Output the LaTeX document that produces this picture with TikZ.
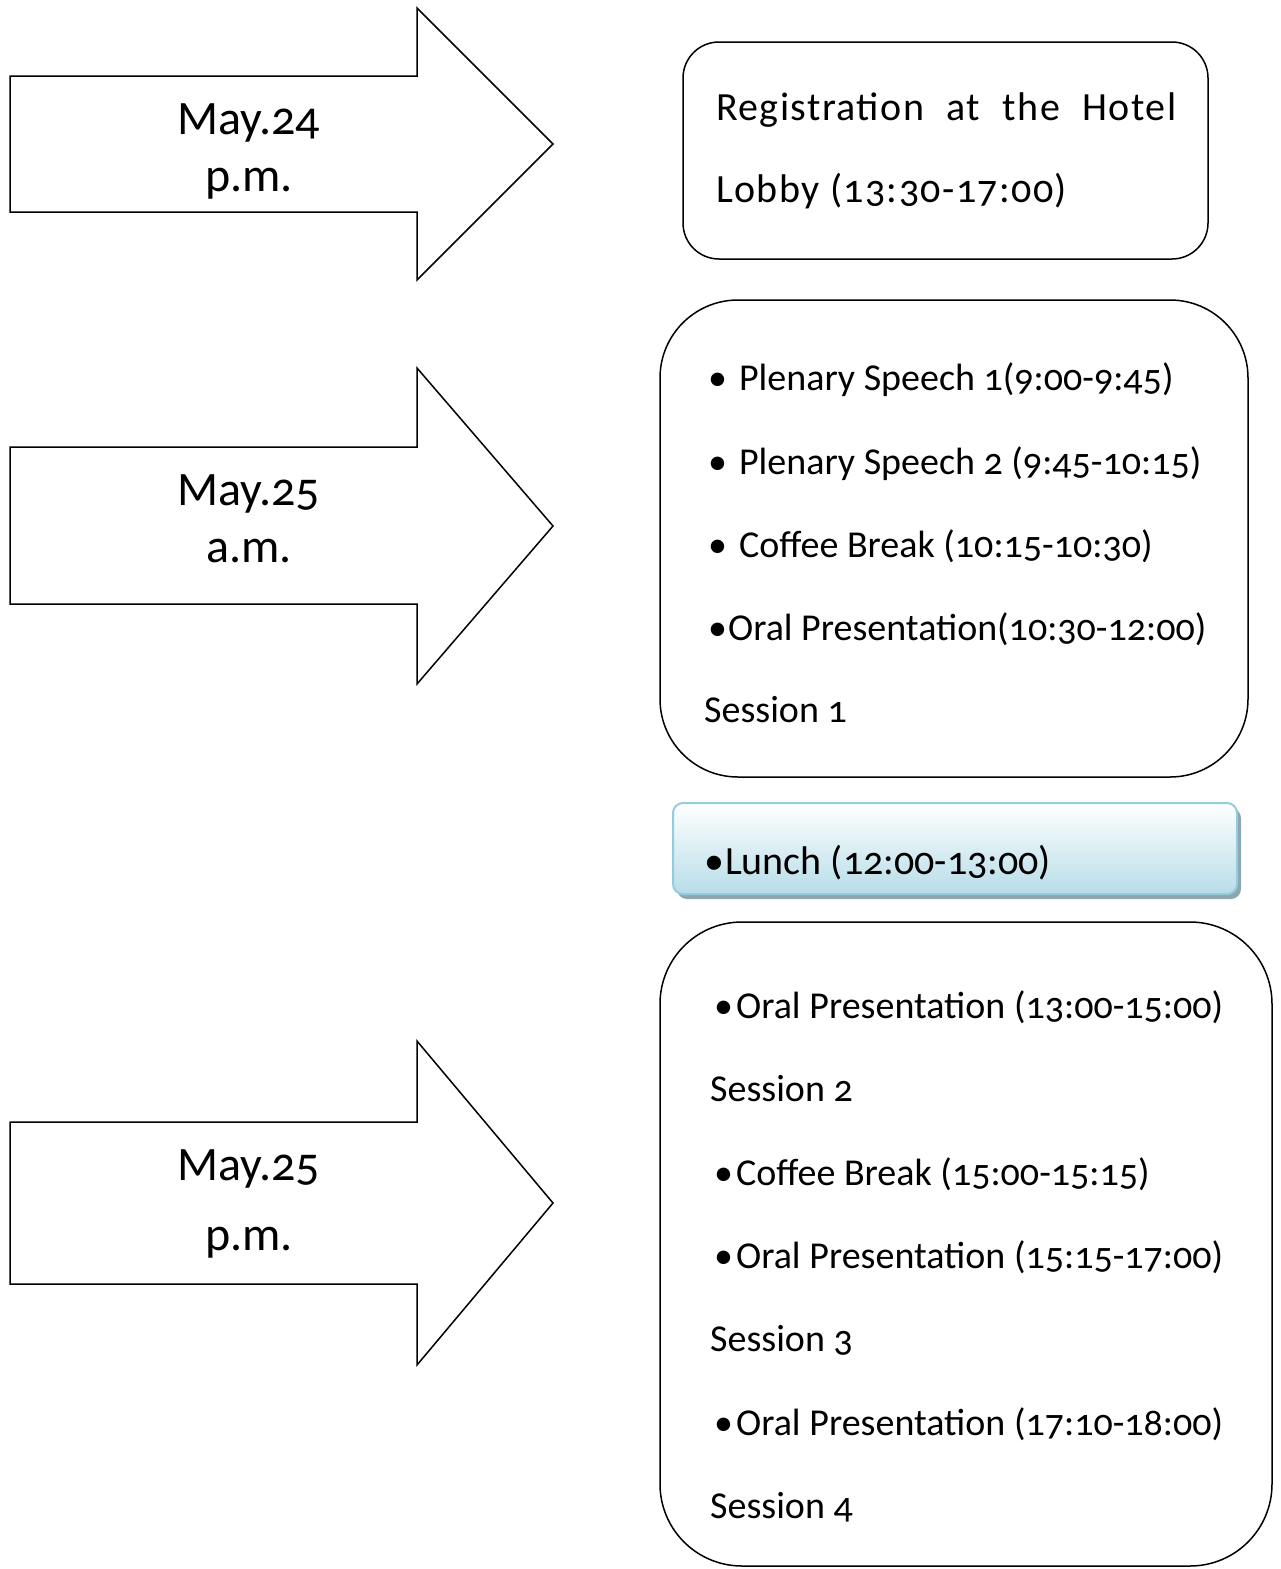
\documentclass[tikz,border=0pt]{standalone}
\usepackage{fontspec}
\setmainfont{Carlito}[Numbers=OldStyle]
\usetikzlibrary{shadows}
\definecolor{lunchtop}{HTML}{FFFFFF}
\definecolor{lunchbot}{HTML}{B7DDE8}
\definecolor{lunchline}{HTML}{93CDDD}
\definecolor{lunchshadow}{HTML}{8EA7AE}
\tikzset{
  txt/.style={anchor=base west, inner sep=0pt, font=\fontsize{38}{40}\selectfont},
  bigtxt/.style={anchor=base west, inner sep=0pt, font=\fontsize{40}{42}\selectfont},
  regtxt/.style={anchor=base west, inner sep=0pt, font=\fontsize{40}{42}\selectfont\addfontfeature{LetterSpace=3.5}},
  lbl/.style={anchor=base, inner sep=0pt, font=\fontsize{48}{50}\selectfont},
  arrowshape/.style={draw=black, line width=1.5pt, fill=white, line join=miter},
  roundbox/.style={draw=black, line width=1.5pt, fill=white},
}
\begin{document}
\begin{tikzpicture}[x=1pt,y=-1pt]
\useasboundingbox (0,0) rectangle (1280,1569);
% arrows
\draw[arrowshape] (10,76) -- (417,76) -- (417,8) -- (553,144) -- (417,280) -- (417,212) -- (10,212) -- cycle;
\draw[arrowshape] (10,447) -- (417,447) -- (417,368) -- (553,526) -- (417,684) -- (417,604) -- (10,604) -- cycle;
\draw[arrowshape] (10,1122) -- (417,1122) -- (417,1041) -- (553,1203) -- (417,1365) -- (417,1284) -- (10,1284) -- cycle;
\node[lbl] (d1a) at (249,134) {May.24};
\node[lbl] (d1b) at (249,191) {p.m.};
\node[lbl] (d2a) at (249,505) {May.25};
\node[lbl] (d2b) at (249,562) {a.m.};
\node[lbl] (d3a) at (249,1180) {May.25};
\node[lbl] (d3b) at (249,1250) {p.m.};
% box 1
\draw[roundbox, rounded corners=36pt] (683,42) rectangle (1208,259);
\node[regtxt] (r1) at (716,120) {\makebox[460pt][s]{Registration at the Hotel}};
\node[regtxt] (r2) at (716,202) {Lobby (13:30-17:00)};
% box 2
\draw[roundbox, rounded corners=78pt] (660,300) rectangle (1248,777);
\node[txt] (a1) at (708,390) {•\hspace{12pt}Plenary Speech 1(9:00-9:45)};
\node[txt] (a2) at (708,474) {•\hspace{12pt}Plenary Speech 2 (9:45-10:15)};
\node[txt] (a3) at (708,557) {•\hspace{12pt}Coffee Break (10:15-10:30)};
\node[txt] (a4) at (708,640) {•\hspace{1pt}Oral Presentation(10:30-12:00)};
\node[txt] (a5) at (704,722) {Session 1};
% lunch
\fill[lunchshadow, rounded corners=10pt] (677,808) rectangle (1241,899);
\draw[draw=lunchline, line width=2pt, top color=lunchtop, bottom color=lunchbot, rounded corners=10pt] (673,803) rectangle (1237,894);
\node[bigtxt] (l1) at (704,874) {•\hspace{1pt}Lunch (12:00-13:00)};
% box 3
\draw[roundbox, rounded corners=82pt] (660,922) rectangle (1272,1566);
\node[txt] (b1) at (714,1018) {•\hspace{3pt}\makebox[487pt][s]{Oral Presentation (13:00-15:00)}};
\node[txt] (b2) at (710,1101) {Session 2};
\node[txt] (b3) at (714,1185) {•\hspace{3pt}Coffee Break (15:00-15:15)};
\node[txt] (b4) at (714,1268) {•\hspace{3pt}\makebox[487pt][s]{Oral Presentation (15:15-17:00)}};
\node[txt] (b5) at (710,1351) {Session 3};
\node[txt] (b6) at (714,1435) {•\hspace{3pt}\makebox[487pt][s]{Oral Presentation (17:10-18:00)}};
\node[txt] (b7) at (710,1518) {Session 4};
\end{tikzpicture}
\end{document}
